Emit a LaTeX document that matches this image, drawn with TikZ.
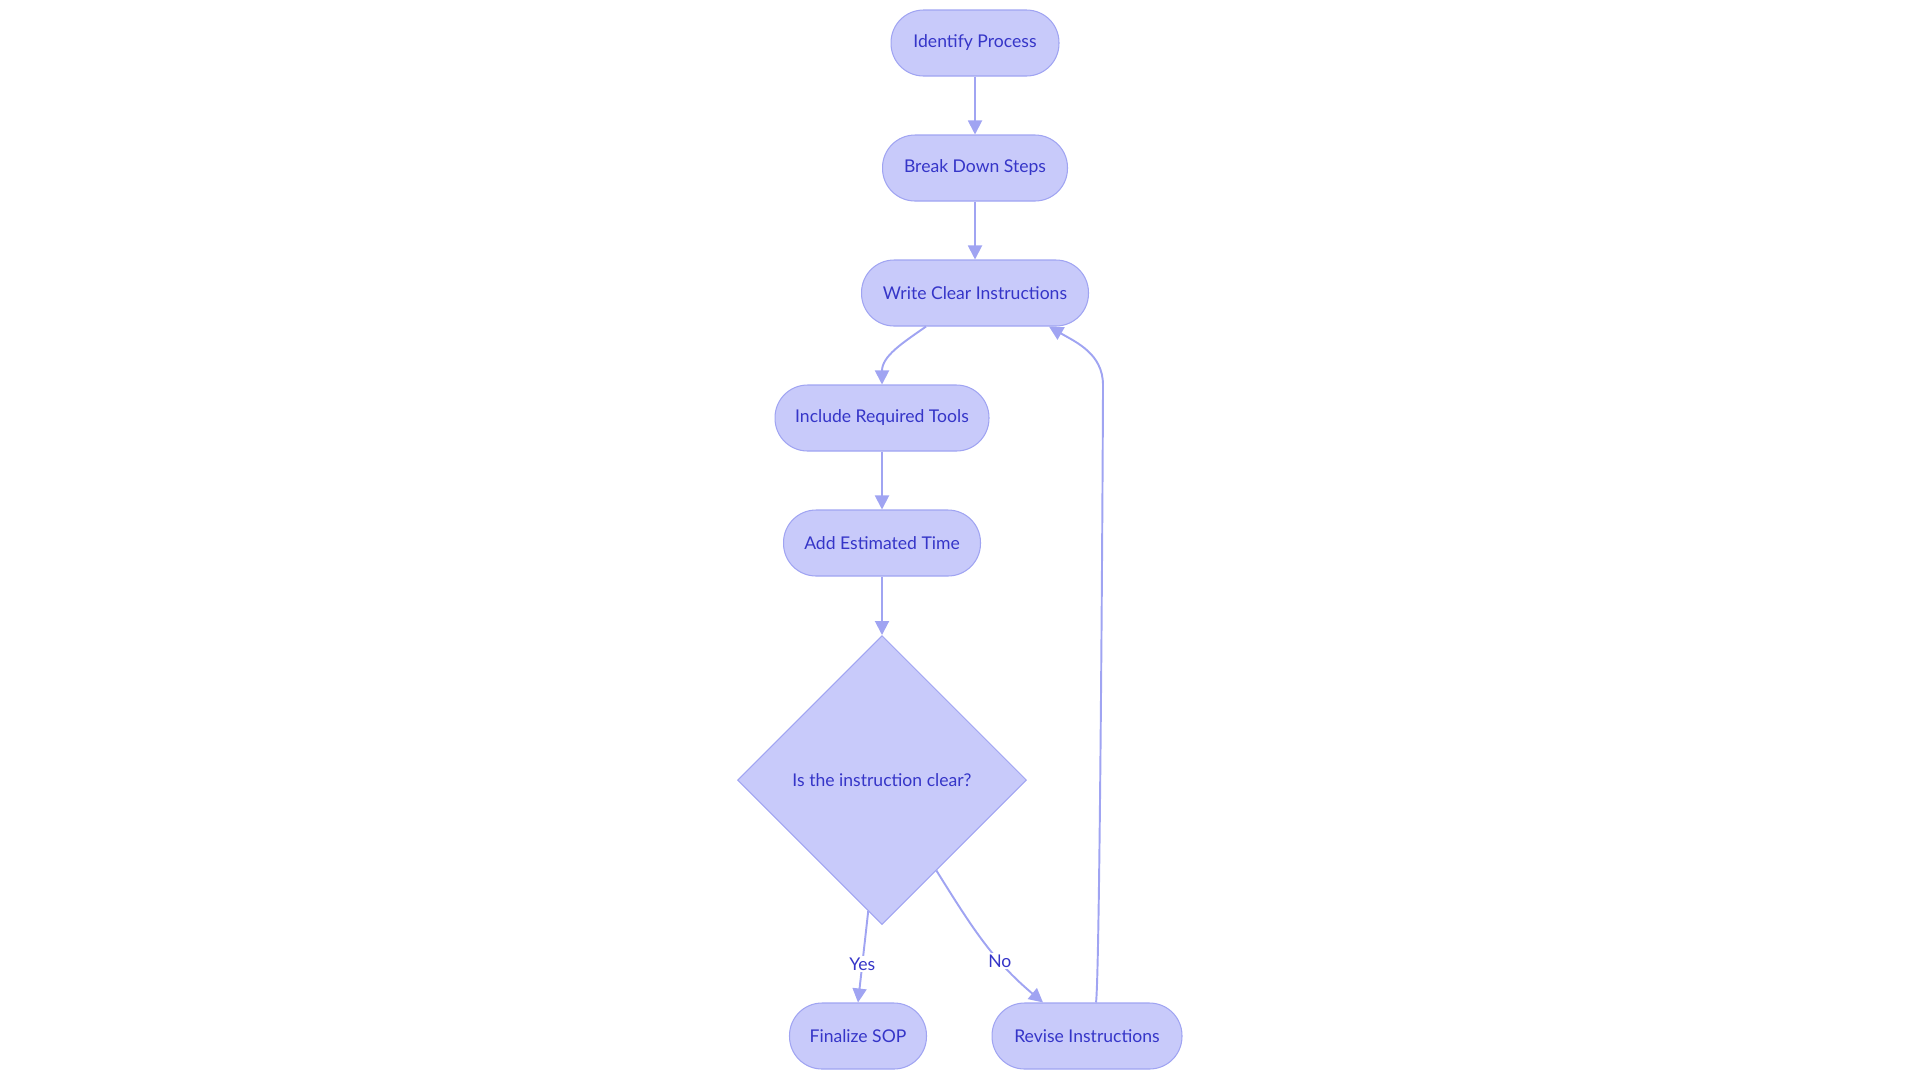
\documentclass[tikz,border=0pt]{standalone}
\usepackage{fontspec}
\setmainfont{Lato}
\usepackage{xcolor}
\usepackage{tikz}
\usetikzlibrary{shapes.geometric,arrows.meta}
\definecolor{boxfill}{HTML}{C8CAFA}
\definecolor{boxline}{HTML}{A0A4F2}
\definecolor{boxtext}{HTML}{3535C8}

\begin{document}
\begin{tikzpicture}[x=0.02cm, y=-0.02cm,
  every node/.style={font=\fontsize{10}{12}\selectfont, text=boxtext},
  stepbox/.style={rectangle, rounded corners=0.65cm, draw=boxline, fill=boxfill, line width=0.6pt,
    minimum height=1.32cm, inner xsep=0.25cm},
  askbox/.style={diamond, draw=boxline, fill=boxfill, line width=0.6pt,
    minimum width=5.78cm, minimum height=5.78cm, inner sep=0pt},
  edge/.style={draw=boxline, line width=1.1pt, -{Triangle[length=0.28cm,width=0.28cm]}},
  lbl/.style={fill=white, inner sep=1pt}]
  \useasboundingbox (0,0) rectangle (1920,1083);
  \node[stepbox, minimum width=3.36cm] (idp) at (975,43)   {Identify Process};
  \node[stepbox, minimum width=3.70cm] (bds) at (975,168)  {Break Down Steps};
  \node[stepbox, minimum width=4.54cm] (wci) at (975,293)  {Write Clear Instructions};
  \node[stepbox, minimum width=4.28cm] (irt) at (882,418)  {Include Required Tools};
  \node[stepbox, minimum width=3.94cm] (aet) at (882,543)  {Add Estimated Time};
  \node[askbox] (clr) at (882,780) {Is the instruction clear?};
  \node[stepbox, minimum width=2.74cm] (fsop) at (858,1036) {Finalize SOP};
  \node[stepbox, minimum width=3.80cm] (rev)  at (1087,1036) {Revise Instructions};
  \coordinate (bend) at (1103,385);

  \draw[edge] (idp) -- (bds);
  \draw[edge] (bds) -- (wci);
  \draw[edge] ([xshift=-0.98cm]wci.south) to[out=-145,in=90] (irt.north);
  \draw[edge] (irt) -- (aet);
  \draw[edge] (aet) -- (clr.north);
  \draw[edge] (clr.-96) -- node[lbl, pos=0.58]{Yes} (fsop.north);
  \draw[edge] (clr.-59) to[out=-58,in=140] node[lbl, pos=0.66]{No} ([xshift=-0.88cm]rev.north);
  \draw[edge] ([xshift=0.18cm]rev.north) to[out=82,in=-90,looseness=0.12] (bend)
    to[out=90,in=-30] ([xshift=1.48cm]wci.south);
\end{tikzpicture}
\end{document}
